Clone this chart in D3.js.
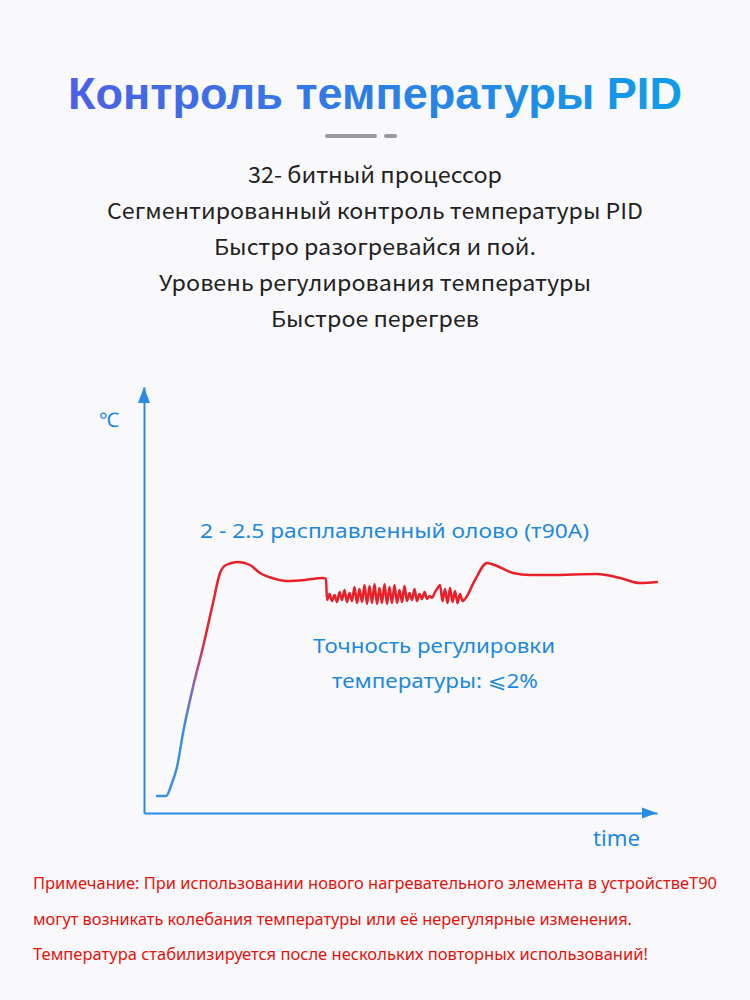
<!DOCTYPE html>
<html>
<head>
<meta charset="utf-8">
<script src="https://cdn.jsdelivr.net/npm/d3@7"></script>
<style>
  html, body { margin: 0; padding: 0; background: #f9f9fb; }
  svg { display: block; }
</style>
</head>
<body>
<svg id="chart" width="750" height="1000"></svg>
<script>
// ---------- data ----------
const titleText = "Контроль температуры PID";
const featureLines = [
  "32- битный процессор",
  "Сегментированный контроль температуры PID",
  "Быстро разогревайся и пой.",
  "Уровень регулирования температуры",
  "Быстрое перегрев"
];
const noteLines = [
  "Примечание: При использовании нового нагревательного элемента в устройствеT90",
  "могут возникать колебания температуры или её нерегулярные изменения.",
  "Температура стабилизируется после нескольких повторных использований!"
];
const yAxisLabel = "℃";
const xAxisLabel = "time";
const plateauLabel = "2 - 2.5 расплавленный олово (т90А)";
const accuracyLines = ["Точность регулировки", "температуры: ⩽2%"];

// temperature curve (arbitrary time units, °C-like units)
const curveTime = [13, 22, 28, 33, 39, 49, 59, 69, 76, 82, 94, 106, 116, 128, 143, 161, 179, 182,
  183, 185.5, 188, 190.5, 193, 195.5, 198, 200.5, 203, 205.5, 208, 210.5, 213, 215.5, 218, 220.5,
  223, 225.5, 228, 230.5, 233, 235.5, 238, 240.5, 243, 245.5, 248, 250.5, 253, 255.5, 258, 260.5,
  263, 265.5, 268, 270.5, 273, 275.5, 278, 280.5, 283, 285.5, 288, 290.5, 293, 296, 298.5, 301,
  303.5, 306, 308.5, 311, 313.5, 316, 318.5, 321,
  331, 343, 353, 369, 386, 406, 453, 476, 496, 513];
const curveTemp = [17, 17, 30, 46, 80, 126, 166, 210, 240, 248, 251, 248, 240, 235, 232, 233, 235, 234,
  213, 219, 212, 218, 211, 221, 213, 223, 211, 220, 212, 226, 210, 224, 211, 228,
  209, 227, 210, 229, 209, 225, 210, 229, 209, 226, 210, 228, 210, 223, 211, 227,
  212, 220, 213, 224, 212, 219, 214, 221, 214, 217, 215, 220, 224, 228, 212, 224,
  210, 225, 211, 222, 210, 219, 212, 214,
  233, 250, 247, 240, 238, 238, 239, 235, 230, 231];

const timeDomain = [0, 513];
const tempDomain = [0, 426];

// ---------- drawing ----------
const svg = d3.select("#chart");
const W = 750;

function fit(sel, width) {
  sel.attr("textLength", width).attr("lengthAdjust", "spacingAndGlyphs");
}

// background
svg.append("rect").attr("width", 750).attr("height", 1000).attr("fill", "#f9f9fb");

// title gradient
const defs = svg.append("defs");
const tg = defs.append("linearGradient").attr("id", "titleGrad")
  .attr("gradientUnits", "userSpaceOnUse")
  .attr("x1", 68).attr("x2", 682).attr("y1", 0).attr("y2", 0);
tg.append("stop").attr("offset", 0).attr("stop-color", "#4c60e6");
tg.append("stop").attr("offset", 1).attr("stop-color", "#0e9de8");

const title = svg.append("text")
  .attr("x", 68).attr("y", 109)
  .attr("font-family", "'Liberation Sans', Arial, sans-serif")
  .attr("font-weight", "bold")
  .attr("font-size", 44)
  .attr("fill", "url(#titleGrad)")
  .text(titleText);
fit(title, 614);

// separator
svg.append("rect").attr("x", 325).attr("y", 134).attr("width", 52).attr("height", 4)
  .attr("rx", 2).attr("fill", "#9a9a9c");
svg.append("rect").attr("x", 384).attr("y", 134).attr("width", 13).attr("height", 4)
  .attr("rx", 2).attr("fill", "#9a9a9c");

// feature lines
const featureWidths = [254, 536, 322, 432, 208];
svg.append("g").selectAll("text").data(featureLines).join("text")
  .attr("x", W / 2)
  .attr("y", (d, i) => 183 + i * 36)
  .attr("text-anchor", "middle")
  .attr("font-family", "'Noto Sans CJK SC', 'Noto Sans', sans-serif")
  .attr("font-size", 22)
  .attr("fill", "#222")
  .text(d => d)
  .each(function (d, i) { fit(d3.select(this), featureWidths[i]); });

// scales
const x = d3.scaleLinear().domain(timeDomain).range([144, 657]);
const y = d3.scaleLinear().domain(tempDomain).range([813, 387]);

const axisColor = "#2a8be2";
const textBlue = "#1d88df";

// axes
const xAxisG = svg.append("g").attr("transform", `translate(0,${y(0)})`)
  .call(d3.axisBottom(x).tickValues([]).tickSizeOuter(0));
const yAxisG = svg.append("g").attr("transform", `translate(${x(0)},0)`)
  .call(d3.axisLeft(y).tickValues([]).tickSizeOuter(0));
[xAxisG, yAxisG].forEach(g => g.select(".domain")
  .attr("stroke", axisColor).attr("stroke-width", 2));

// arrowheads
const yTipX = x(0), yTipY = y(tempDomain[1]);
svg.append("path")
  .attr("d", `M${yTipX},${yTipY} L${yTipX - 6},${yTipY + 16} L${yTipX + 6},${yTipY + 16} Z`)
  .attr("fill", axisColor);
const xTipX = x(timeDomain[1]), xTipY = y(0);
svg.append("path")
  .attr("d", `M${xTipX},${xTipY} L${xTipX - 15},${xTipY - 5.5} L${xTipX - 15},${xTipY + 5.5} Z`)
  .attr("fill", axisColor);

// axis labels
svg.append("text").attr("x", 99).attr("y", 427)
  .attr("font-family", "'Noto Sans', 'DejaVu Sans', sans-serif")
  .attr("font-size", 20).attr("fill", textBlue).text(yAxisLabel);
fit(svg.append("text").attr("x", 593).attr("y", 846)
  .attr("font-family", "'Noto Sans', sans-serif")
  .attr("font-size", 21).attr("fill", textBlue).text(xAxisLabel), 47);

// curve gradient
const cg = defs.append("linearGradient").attr("id", "curveGrad")
  .attr("gradientUnits", "userSpaceOnUse")
  .attr("x1", 0).attr("x2", 0)
  .attr("y1", y(85)).attr("y2", y(180));
cg.append("stop").attr("offset", 0).attr("stop-color", "#3a8fe6");
cg.append("stop").attr("offset", 0.5).attr("stop-color", "#9a5aa8");
cg.append("stop").attr("offset", 1).attr("stop-color", "#e8202a");

const pts = curveTime.map((t, i) => [t, curveTemp[i]]);
const line = d3.line().x(d => x(d[0])).y(d => y(d[1])).curve(d3.curveMonotoneX);
svg.append("path")
  .datum(pts)
  .attr("d", line)
  .attr("fill", "none")
  .attr("stroke", "url(#curveGrad)")
  .attr("stroke-width", 2.5)
  .attr("stroke-linejoin", "round")
  .attr("stroke-linecap", "round");

// chart annotations
fit(svg.append("text").attr("x", 200).attr("y", 538)
  .attr("font-family", "'Noto Sans', sans-serif")
  .attr("font-size", 20).attr("fill", textBlue).text(plateauLabel), 389);
fit(svg.append("text").attr("x", 313).attr("y", 653)
  .attr("font-family", "'Noto Sans', sans-serif")
  .attr("font-size", 20).attr("fill", textBlue).text(accuracyLines[0]), 242);
fit(svg.append("text").attr("x", 332).attr("y", 688)
  .attr("font-family", "'Noto Sans', 'DejaVu Sans', sans-serif")
  .attr("font-size", 20).attr("fill", textBlue).text(accuracyLines[1]), 206);

// notes
const noteWidths = [684, 599, 615];
svg.append("g").selectAll("text").data(noteLines).join("text")
  .attr("x", 33)
  .attr("y", (d, i) => 889 + i * 35.5)
  .attr("font-family", "'Liberation Sans Narrow', 'Noto Sans', sans-serif")
  .attr("font-size", 16)
  .attr("fill", "#e3120b")
  .text(d => d)
  .each(function (d, i) { fit(d3.select(this), noteWidths[i]); });
</script>
</body>
</html>
